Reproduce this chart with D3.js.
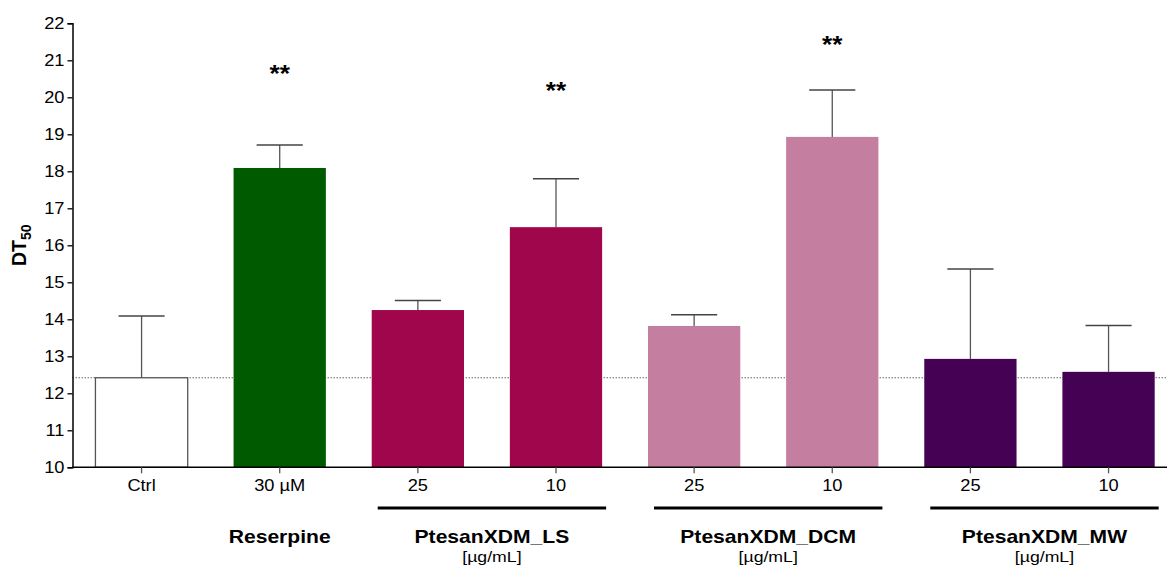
<!DOCTYPE html>
<html>
<head>
<meta charset="utf-8">
<script src="https://cdn.jsdelivr.net/npm/d3@7"></script>
<style>
  body { margin: 0; background: #fff; }
  text { font-family: "Liberation Sans", Arial, sans-serif; }
</style>
</head>
<body>
<div id="chart"></div>
<script>
// Data
const categories = ["Ctrl", "Reserpine30", "LS25", "LS10", "DCM25", "DCM10", "MW25", "MW10"];
const tickLabels = ["Ctrl", "30 µM", "25", "10", "25", "10", "25", "10"];
const means = [12.42, 18.09, 14.25, 16.49, 13.82, 18.93, 12.93, 12.58];
const errTops = [14.09, 18.71, 14.51, 17.8, 14.12, 20.2, 15.36, 13.83];
const barColors = ["#ffffff", "#005a00", "#a0064b", "#a0064b", "#c47fa0", "#c47fa0", "#450254", "#450254"];
const stars = [
  { cat: "Reserpine30", y: 20.72 },
  { cat: "LS10", y: 20.27 },
  { cat: "DCM10", y: 21.52 },
];
const groups = [
  { name: "Reserpine", from: "Reserpine30", to: "Reserpine30", line: false, unit: "" },
  { name: "PtesanXDM_LS", from: "LS25", to: "LS10", line: true, unit: "[µg/mL]" },
  { name: "PtesanXDM_DCM", from: "DCM25", to: "DCM10", line: true, unit: "[µg/mL]" },
  { name: "PtesanXDM_MW", from: "MW25", to: "MW10", line: true, unit: "[µg/mL]" },
];
const baseline = means[0];

// Dimensions
const width = 1167;
const height = 569;
const x0 = 72.5;
const yTop = 23.3;
const yBottom = 467.3;
const stretch = 1.14; // the original text is a bit wider than Arial

const svg = d3.select("#chart")
  .append("svg")
  .attr("width", width)
  .attr("height", height);

// widen text horizontally
function widen(sel) {
  sel.each(function () {
    const len = this.getComputedTextLength();
    d3.select(this)
      .attr("textLength", len * stretch)
      .attr("lengthAdjust", "spacingAndGlyphs");
  });
}

// Scales
const xScale = d3.scaleBand()
  .domain(categories)
  .range([x0, x0 + 8 * 138.14])
  .paddingInner(0.332)
  .paddingOuter(0.166);

const yScale = d3.scaleLinear()
  .domain([10, 22])
  .range([yBottom, yTop]);

const bw = xScale.bandwidth();

// dotted baseline (Ctrl level)
svg.append("line")
  .attr("x1", x0)
  .attr("x2", width)
  .attr("y1", yScale(baseline))
  .attr("y2", yScale(baseline))
  .attr("stroke", "#666")
  .attr("stroke-width", 1)
  .attr("stroke-dasharray", "1.5,1.5");

// error bars
const errG = svg.append("g");
categories.forEach((c, i) => {
  const cx = xScale(c) + bw / 2;
  errG.append("line")
    .attr("x1", cx).attr("x2", cx)
    .attr("y1", yScale(means[i]))
    .attr("y2", yScale(errTops[i]))
    .attr("stroke", "#555")
    .attr("stroke-width", 1.3);
  errG.append("line")
    .attr("x1", cx - bw / 4).attr("x2", cx + bw / 4)
    .attr("y1", yScale(errTops[i]))
    .attr("y2", yScale(errTops[i]))
    .attr("stroke", "#444")
    .attr("stroke-width", 1.5);
});

// bars
svg.append("g")
  .selectAll("rect")
  .data(categories)
  .join("rect")
  .attr("x", (d) => xScale(d))
  .attr("width", bw)
  .attr("y", (d, i) => yScale(means[i]))
  .attr("height", (d, i) => yBottom - yScale(means[i]))
  .attr("fill", (d, i) => barColors[i])
  .attr("stroke", (d, i) => (i === 0 ? "#555" : "none"))
  .attr("stroke-width", 1.3);

// stars
svg.append("g")
  .selectAll("text")
  .data(stars)
  .join("text")
  .attr("x", (d) => xScale(d.cat) + bw / 2)
  .attr("y", (d) => yScale(d.y))
  .attr("dy", "0.5em")
  .attr("text-anchor", "middle")
  .style("font-size", "23px")
  .style("font-weight", "bold")
  .text("**")
  .call(widen);

// Axes
const yAxis = d3.axisLeft(yScale).tickValues(d3.range(10, 23, 1)).tickSize(5).tickPadding(3);
const gY = svg.append("g")
  .attr("transform", `translate(${x0},0)`)
  .call(yAxis);
gY.select(".domain").attr("stroke", "#000").attr("stroke-width", 1.5);
gY.selectAll(".tick line").attr("stroke", "#000").attr("stroke-width", 1.3);
gY.selectAll(".tick text")
  .style("font-size", "16px")
  .style("fill", "#000")
  .call(widen);

const xAxis = d3.axisBottom(xScale)
  .tickFormat((d, i) => tickLabels[i])
  .tickSize(6)
  .tickSizeOuter(0)
  .tickPadding(6);
const gX = svg.append("g")
  .attr("transform", `translate(0,${yBottom})`)
  .call(xAxis);
gX.select(".domain")
  .attr("d", `M${x0},0H${width}`)
  .attr("stroke", "#000")
  .attr("stroke-width", 1.5);
gX.selectAll(".tick line").attr("stroke", "#555").attr("stroke-width", 1.3);
gX.selectAll(".tick text")
  .style("font-size", "16px")
  .style("fill", "#000")
  .call(widen);

// Group labels
groups.forEach((g) => {
  const left = xScale(g.from);
  const right = xScale(g.to) + bw;
  let cx = (left + right) / 2;
  if (g.line) {
    const lx1 = left + 6;
    const lx2 = right + 4;
    cx = (lx1 + lx2) / 2;
    svg.append("line")
      .attr("x1", lx1).attr("x2", lx2)
      .attr("y1", 508).attr("y2", 508)
      .attr("stroke", "#000")
      .attr("stroke-width", 3);
  }
  svg.append("text")
    .attr("x", cx)
    .attr("y", 543)
    .attr("text-anchor", "middle")
    .style("font-size", "18.5px")
    .style("font-weight", "bold")
    .text(g.name)
    .call(widen);
  if (g.unit) {
    svg.append("text")
      .attr("x", cx)
      .attr("y", 562)
      .attr("text-anchor", "middle")
      .style("font-size", "15.5px")
      .text(g.unit)
      .call(widen);
  }
});

// Y label
const yLabel = svg.append("text")
  .attr("transform", `translate(26,${(yTop + yBottom) / 2}) rotate(-90)`)
  .attr("text-anchor", "middle")
  .style("font-size", "19.5px")
  .style("font-weight", "bold");
yLabel.append("tspan").text("DT");
yLabel.append("tspan").attr("dy", 5).style("font-size", "14px").text("50");
</script>
</body>
</html>
